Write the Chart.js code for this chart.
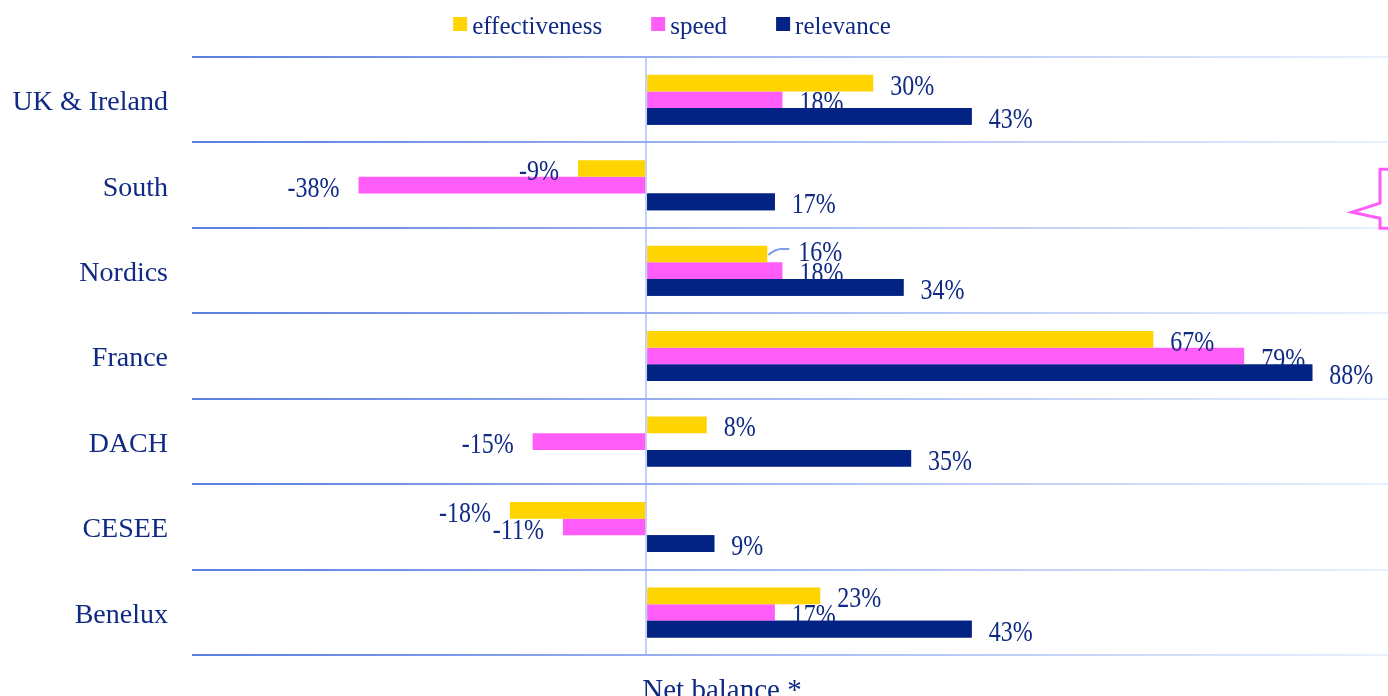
<!DOCTYPE html>
<html>
<head>
<meta charset="utf-8">
<script src="https://cdn.jsdelivr.net/npm/chart.js@4.4.1/dist/chart.umd.min.js"></script>
<style>
  html, body { margin: 0; padding: 0; background: #fff; overflow: hidden; }
  #wrap { width: 1388px; height: 696px; position: relative; }
</style>
</head>
<body>
<div id="wrap"><canvas id="chart"></canvas></div>
<script>
// data
const regions = ["UK & Ireland", "South", "Nordics", "France", "DACH", "CESEE", "Benelux"];
const effectiveness = [30, -9, 16, 67, 8, -18, 23];
const speed = [18, -38, 18, 79, -15, -11, 17];
const relevance = [43, 17, 34, 88, 35, 9, 43];
const seriesNames = ["effectiveness", "speed", "relevance"];
const axisTitle = "Net balance *";

const TEXT = "#102a84";
const SERIF = "'Liberation Serif', 'Times New Roman', serif";
const YELLOW = "#ffd400";
const PINK = "#ff5cf8";
const NAVY = "#022383";

// fading blue used for the row separators
function rowLineColor(ctx) {
    const chart = ctx.chart;
    const area = chart.chartArea;
    if (!area) {
        return "#9fb5f0";
    }
    const g = chart.ctx.createLinearGradient(area.left, 0, area.right, 0);
    g.addColorStop(0, "#5b7ee0");
    g.addColorStop(0.45, "#a0b6f1");
    g.addColorStop(1, "#eaf0fd");
    return g;
}

function drawValueLabels(chart, dsIndex, opts) {
    const ctx = chart.ctx;
    const meta = chart.getDatasetMeta(dsIndex);
    const values = chart.data.datasets[dsIndex].data;
    ctx.save();
    ctx.font = "24px " + SERIF;
    ctx.fillStyle = TEXT;
    ctx.textBaseline = "middle";
    meta.data.forEach((bar, i) => {
        const v = values[i];
        const neg = v < 0;
        let x = bar.x + (neg ? -19 : 17);
        let y = bar.y + 4;
        const nudge = opts.nudges.find((n) => n.dataset === dsIndex && n.index === i);
        if (nudge) {
            x += nudge.dx;
            y += nudge.dy;
            // small leader line back to the bar end
            ctx.save();
            ctx.strokeStyle = "#7f9bea";
            ctx.lineWidth = 2;
            ctx.beginPath();
            ctx.moveTo(bar.x + 1, bar.y + 1);
            ctx.quadraticCurveTo(bar.x + 8, bar.y - 5, bar.x + 14, bar.y - 5);
            ctx.lineTo(bar.x + 22, bar.y - 5);
            ctx.stroke();
            ctx.restore();
        }
        ctx.textAlign = neg ? "right" : "left";
        ctx.save();
        ctx.translate(x, y);
        ctx.scale(1, 1.2);
        ctx.fillText(v + "%", 0, 0);
        ctx.restore();
    });
    ctx.restore();
}

const decorPlugin = {
    id: "decor",
    afterDatasetsDraw(chart, args, opts) {
        drawValueLabels(chart, 0, opts);
        drawValueLabels(chart, 1, opts);
        // relevance bars sit on top of the labels above them
        chart.getDatasetMeta(2).controller.draw();
        drawValueLabels(chart, 2, opts);
    },
    afterDraw(chart) {
        const ctx = chart.ctx;
        const area = chart.chartArea;

        // legend
        ctx.save();
        ctx.font = "25px " + SERIF;
        ctx.textBaseline = "alphabetic";
        ctx.textAlign = "left";
        const box = 14;
        const items = chart.data.datasets.map((ds) => ({
            label: ds.label,
            color: ds.backgroundColor,
            w: ctx.measureText(ds.label).width,
        }));
        let total = 49 * (items.length - 1);
        items.forEach((it) => { total += box + 5 + it.w; });
        let x = chart.width / 2 - 22 - total / 2;
        items.forEach((it) => {
            ctx.fillStyle = it.color;
            ctx.fillRect(x, 17, box, box);
            ctx.fillStyle = TEXT;
            ctx.fillText(it.label, x + box + 5, 34);
            x += box + 5 + it.w + 49;
        });

        // axis title
        ctx.font = "29px " + SERIF;
        ctx.textAlign = "center";
        ctx.fillText(axisTitle, (area.left + area.right) / 2 - 68, 699);

        // pink brace on the right edge, next to South
        const c = chart.scales.y.getPixelForValue(1);
        const r = area.right;
        ctx.strokeStyle = PINK;
        ctx.lineWidth = 3;
        ctx.lineJoin = "miter";
        ctx.beginPath();
        ctx.moveTo(r + 2, c - 16);
        ctx.lineTo(r - 8, c - 16);
        ctx.lineTo(r - 8, c + 18);
        ctx.lineTo(r - 36, c + 27);
        ctx.lineTo(r - 8, c + 33);
        ctx.lineTo(r - 8, c + 43);
        ctx.lineTo(r + 2, c + 43);
        ctx.stroke();
        ctx.restore();
    },
};

new Chart(document.getElementById("chart"), {
    type: "bar",
    data: {
        labels: regions,
        datasets: [
            { label: seriesNames[0], data: effectiveness, backgroundColor: YELLOW },
            { label: seriesNames[1], data: speed, backgroundColor: PINK },
            { label: seriesNames[2], data: relevance, backgroundColor: NAVY },
        ],
    },
    options: {
        indexAxis: "y",
        responsive: true,
        maintainAspectRatio: false,
        animation: false,
        layout: { padding: { top: 57, bottom: 39, left: 0, right: 0 } },
        datasets: {
            bar: { barPercentage: 1, categoryPercentage: 0.585, borderWidth: 0 },
        },
        plugins: {
            legend: { display: false },
            tooltip: { enabled: false },
            decor: {
                nudges: [{ dataset: 0, index: 2, dx: 14, dy: -5 }],
            },
        },
        scales: {
            x: {
                min: -60,
                max: 98,
                ticks: { display: false, stepSize: 20 },
                border: { display: false },
                grid: {
                    drawTicks: false,
                    lineWidth: 2,
                    color: (ctx) => (ctx.tick && ctx.tick.value === 0 ? "#c4d2f7" : "rgba(0,0,0,0)"),
                },
            },
            y: {
                afterFit: (scale) => { scale.width = 192; },
                border: { display: false },
                grid: { offset: true, drawTicks: false, lineWidth: 2, color: rowLineColor },
                ticks: {
                    color: TEXT,
                    padding: 24,
                    labelOffset: 3,
                    font: { family: SERIF, size: 28 },
                },
            },
        },
    },
    plugins: [decorPlugin],
});
</script>
</body>
</html>
